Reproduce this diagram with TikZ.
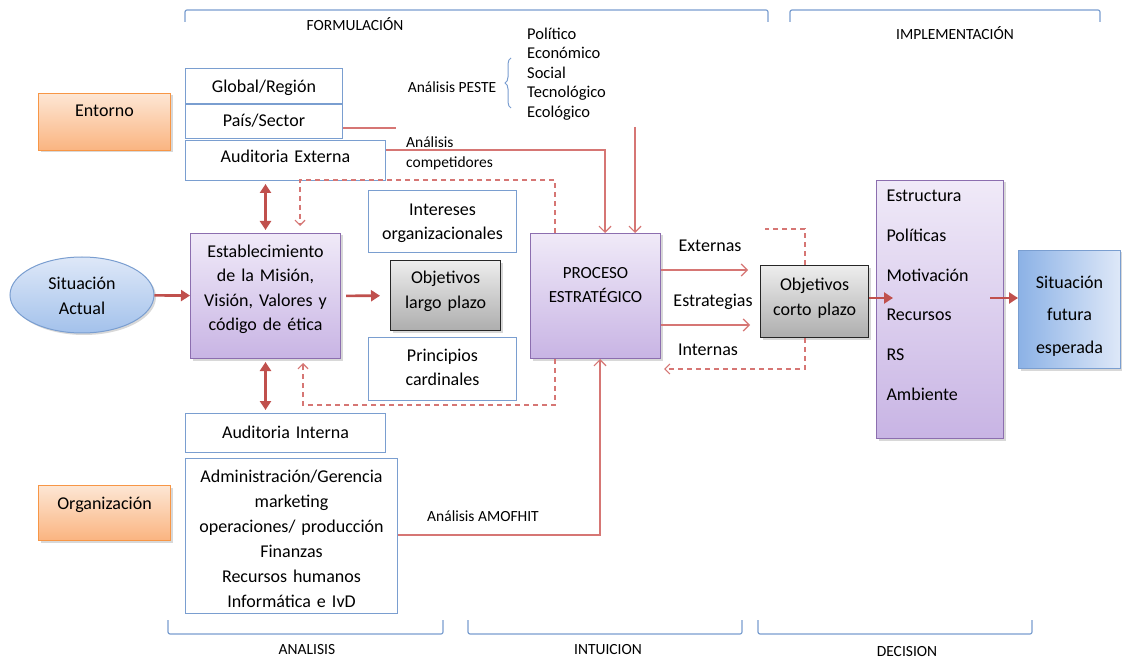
\documentclass[tikz,border=0pt]{standalone}
\usepackage{fontspec}
\setmainfont{Carlito}
\usepackage{tikz}
\usetikzlibrary{positioning, arrows.meta, shapes.geometric, shadows, decorations.pathreplacing}

\definecolor{boxblue}{RGB}{122,158,208}
\definecolor{arrowred}{RGB}{192,80,77}
\definecolor{linered}{RGB}{214,118,116}
\definecolor{purpleline}{RGB}{140,110,175}
\definecolor{purpletop}{RGB}{240,234,248}
\definecolor{purplebot}{RGB}{200,180,228}
\definecolor{orangeline}{RGB}{247,150,70}
\definecolor{orangetop}{RGB}{253,230,212}
\definecolor{orangebot}{RGB}{250,180,128}
\definecolor{bluedark}{RGB}{140,178,230}
\definecolor{bluelight}{RGB}{222,232,248}

\newcommand\bodysz{\fontsize{18}{24.5}\selectfont}
\newcommand\smallsz{\fontsize{15.5}{20}\selectfont}
\newcommand\pestesz{\fontsize{16.5}{19.5}\selectfont}

\begin{document}
\begin{tikzpicture}[x=1pt, y=-1pt, >={Triangle[length=9pt,width=11pt]},
    wbox/.style={draw=boxblue, fill=white, line width=1pt, inner sep=0pt, align=center, font=\bodysz, anchor=north west},
    pbox/.style={wbox, draw=purpleline, top color=purpletop, bottom color=purplebot, drop shadow={shadow xshift=2pt, shadow yshift=-2pt, opacity=.3}},
    obox/.style={wbox, draw=orangeline, top color=orangetop, bottom color=orangebot, drop shadow={shadow xshift=2pt, shadow yshift=-2pt, opacity=.3}},
    gbox/.style={wbox, draw=black!85, line width=1.2pt, top color=black!7, bottom color=black!32, drop shadow={shadow xshift=2pt, shadow yshift=-2pt, opacity=.3}},
    sz/.style n args={3}{text width=#1pt, text height=#2pt, text depth=#3pt},
    lbl/.style={font=\smallsz, inner sep=0pt},
    bracket/.style={draw=boxblue, line width=1.2pt, rounded corners=2pt},
    bigarrow/.style={draw=arrowred, line width=2.6pt, ->},
    bigboth/.style={draw=arrowred, line width=2.6pt, <->},
    thinline/.style={draw=linered, line width=1.2pt},
    thinarrow/.style={thinline, -{Straight Barb[length=6pt,width=12pt]}},
    dashline/.style={thinline, dash pattern=on 5pt off 4pt}]
\useasboundingbox (0,0) rectangle (1122,660);
\fill[white] (0,0) rectangle (1122,660);

% brackets and stage names
\draw[bracket] (185,22) -- (185,10) -- (768,10) -- (768,22);
\draw[bracket] (790,22) -- (790,10) -- (1100,10) -- (1100,22);
\draw[bracket] (168,620) -- (168,634) -- (443,634) -- (443,620);
\draw[bracket] (468,620) -- (468,634) -- (742,634) -- (742,620);
\draw[bracket] (758,620) -- (758,634) -- (1032,634) -- (1032,620);
\node[lbl] (formul) at (355,24) {FORMULACIÓN};
\node[lbl] (implem) at (955,33) {IMPLEMENTACIÓN};
\node[lbl] (analisis) at (307,650) {ANALISIS};
\node[lbl] (intuicion) at (608,650) {INTUICION};
\node[lbl] (decision) at (907,652) {DECISION};

% entorno
\node[obox, sz={132}{23}{34}] (entorno) at (38,93) {Entorno};
\node[wbox, sz={157}{24}{11}] (global) at (185,68) {Global/Región};
\node[wbox, below=0pt of global, sz={157}{22}{12}] (pais) {País/Sector};
\node[wbox, sz={200}{22}{18}] (audext) at ([yshift=-1pt]pais.south west) {Auditoria Externa};

\node[lbl] (peste) at (452,87) {Análisis PESTE};
\draw[draw=boxblue, line width=1pt, decorate, decoration={brace, amplitude=6pt}] (511,108) -- (511,58);
\node[anchor=north west, inner sep=0pt, text width=95pt, align=left, font=\pestesz, text height=14pt] (pesteitems) at (527,25)
  {Político\\Económico\\Social\\Tecnológico\\Ecológico};
\node[anchor=base west, inner sep=0pt, text width=110pt, align=left, font=\fontsize{15.5}{20}\selectfont] (compet) at (406,148)
  {Análisis\\competidores};

% centre line
\node[ellipse, draw=boxblue, line width=1pt, top color=bluelight, bottom color=bluedark!80, inner sep=0pt,
  minimum width=144pt, minimum height=76pt, align=center, font=\bodysz, sz={90}{12}{22},
  drop shadow={shadow xshift=2pt, shadow yshift=-2pt, opacity=.3}] (sit) at (82,295) {Situación\\Actual};
\node[pbox, sz={150}{24}{101}] (estab) at (190,233)
  {Establecimiento\\de la Misión,\\Visión, Valores y\\código de ética};
\node[wbox, sz={148}{25}{37}] (inter) at (368,190) {Intereses\\organizacionales};
\node[gbox, sz={110}{23}{47}] (largo) at (390,260) {Objetivos\\largo plazo};
\node[wbox, sz={148}{24}{39}] (princ) at (368,337) {Principios\\cardinales};
\node[pbox, sz={130}{45}{80}, font=\fontsize{17}{24}\selectfont] (proceso) at (530,233) {PROCESO\\ESTRATÉGICO};
\node[gbox, sz={108}{25}{47}] (corto) at (760,265) {Objetivos\\corto plazo};
\node[pbox, align=left, inner xsep=10pt, sz={107}{21}{237}, font=\fontsize{18}{39.8}\selectfont] (impl) at (876,180)
  {Estructura\\Políticas\\Motivación\\Recursos\\RS\\Ambiente};
\node[wbox, draw=boxblue, left color=bluedark, right color=bluelight, sz={102}{38}{80}, font=\fontsize{18}{32.5}\selectfont,
  drop shadow={shadow xshift=2pt, shadow yshift=-2pt, opacity=.3}] (futura) at (1018,250) {Situación\\futura\\esperada};

\node[font=\bodysz, inner sep=0pt] (externas) at (710,246) {Externas};
\node[font=\bodysz, inner sep=0pt] (estrat) at (713,302) {Estrategias};
\node[font=\bodysz, inner sep=0pt] (internas) at (708,350) {Internas};

% organizacion
\node[obox, sz={132}{24}{31}] (organ) at (38,485) {Organización};
\node[wbox, sz={200}{25}{14}] (audint) at (185,413) {Auditoria Interna};
\node[wbox, sz={212}{24}{131}, font=\fontsize{18}{25}\selectfont] (orglist) at ([yshift=-5pt]audint.south west)
  {Administración/Gerencia\\marketing\\operaciones/ producción\\Finanzas\\Recursos humanos\\Informática e IvD};
\node[lbl] (amofhit) at (483,516) {Análisis AMOFHIT};

% thick arrows
\coordinate (implin) at (893,298);
\coordinate (implout) at (990,298);
\draw[bigarrow] (sit) -- (estab);
\draw[bigboth, shorten <=3pt, shorten >=3pt] (estab.north) -- (estab.north |- audext.south);
\draw[bigboth, shorten <=3pt, shorten >=3pt] (estab.south) -- (estab.south |- audint.north);
\draw[bigarrow, shorten <=5pt, shorten >=10pt] (estab) -- (largo);
\draw[bigarrow] (corto.east |- implin) -- (implin);
\draw[bigarrow] (implout) -- (futura.west |- implout);

% analysis lines into the process
\coordinate (paisend) at (396,128);
\coordinate (compcorner) at (605,150);
\coordinate (pestetop) at (635,127);
\coordinate (amocorner) at (600,535);
\draw[thinline] (pais.east |- paisend) -- (paisend);
\draw[thinarrow] (audext.east |- compcorner) -| (compcorner |- proceso.north);
\draw[thinarrow] (pestetop) -- (pestetop |- proceso.north);
\draw[thinarrow] (orglist.east |- amocorner) -| (amocorner |- proceso.south);

\coordinate (extend) at (748,270);
\coordinate (intend) at (750,325);
\draw[thinarrow] (proceso.east |- extend) -- (extend);
\draw[thinarrow] (proceso.east |- intend) -- (intend);

% feedback loops
\coordinate (looptr) at (555,180);
\coordinate (looptl) at (300,180);
\coordinate (loopbr) at (555,405);
\coordinate (loopbl) at (303,405);
\draw[dashline, -{Straight Barb[length=5pt,width=10pt]}, shorten >=7pt] (looptr |- proceso.north) -- (looptr) -- (looptl) -- (looptl |- estab.north);
\draw[dashline, -{Straight Barb[length=5pt,width=10pt]}, shorten >=4pt] (loopbr |- proceso.south) -- (loopbr) -- (loopbl) -- (loopbl |- estab.south);
\coordinate (cortotr) at (805,229);
\coordinate (cortotl) at (765,229);
\coordinate (cortobr) at (805,369);
\draw[dashline] (cortotr |- corto.north) -- (cortotr) -- (cortotl);
\draw[dashline, -{Straight Barb[length=5pt,width=10pt]}, shorten >=3pt] (cortobr |- corto.south) -- (cortobr) -- (proceso.east |- cortobr);
\end{tikzpicture}
\end{document}
